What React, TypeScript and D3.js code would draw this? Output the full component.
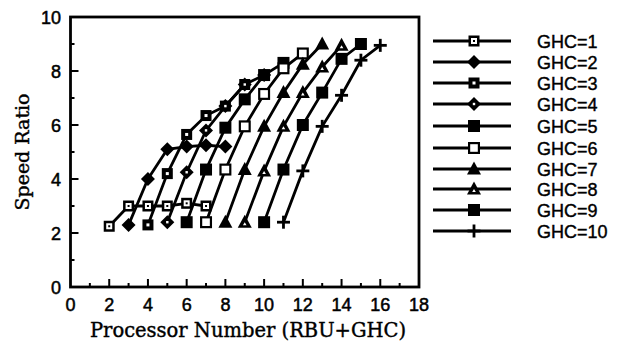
import React from "react";
import * as d3 from "d3";

const ghcCounts = [1, 2, 3, 4, 5, 6, 7, 8, 9, 10];
const rbuCounts = [1, 2, 3, 4, 5, 6];
const speedGHC1 = [2.25, 3.0, 3.0, 3.0, 3.1, 3.0];
const speedGHC2 = [2.3, 4.0, 5.1, 5.2, 5.25, 5.2];
const speedGHC3 = [2.3, 4.2, 5.65, 6.35, 6.7, 7.5];
const speedGHC4 = [2.4, 4.25, 5.8, 6.7, 7.5, 7.85];
const speedGHC5 = [2.4, 4.35, 5.9, 6.95, 7.85, 8.3];
const speedGHC6 = [2.4, 4.35, 5.95, 7.15, 8.1, 8.65];
const speedGHC7 = [2.4, 4.35, 5.95, 7.2, 8.25, 9.0];
const speedGHC8 = [2.4, 4.3, 5.95, 7.2, 8.15, 8.95];
const speedGHC9 = [2.4, 4.35, 6.0, 7.2, 8.45, 9.0];
const speedGHC10 = [2.4, 4.3, 5.95, 7.1, 8.4, 8.95];
const allSpeeds = [speedGHC1, speedGHC2, speedGHC3, speedGHC4, speedGHC5, speedGHC6, speedGHC7, speedGHC8, speedGHC9, speedGHC10];
const xTicks = [0, 2, 4, 6, 8, 10, 12, 14, 16, 18];
const yTicks = [0, 2, 4, 6, 8, 10];
const legendLabels = ghcCounts.map((g) => `GHC=${g}`);
const markerTypes = ["sqdotL", "diamond", "sqdot", "diadot", "square", "opensq", "triangle", "opentri", "square", "plus"];

const x = d3.scaleLinear().domain([0, 18]).range([70.5, 419]);
const y = d3.scaleLinear().domain([0, 10]).range([287, 17]);

function Marker({ type, cx, cy }: { type: string; cx: number; cy: number }) {
  const k = "#000";
  switch (type) {
    case "sqdotL":
      return (
        <g>
          <rect x={cx - 5.5} y={cy - 5.5} width={11} height={11} fill={k} />
          <rect x={cx - 3} y={cy - 3} width={6} height={6} fill="#fff" />
          <rect x={cx - 1} y={cy - 1} width={2} height={2} fill={k} />
        </g>
      );
    case "sqdot":
      return (
        <g>
          <rect x={cx - 5.5} y={cy - 5.5} width={11} height={11} fill={k} />
          <rect x={cx - 1.5} y={cy - 1.5} width={3} height={3} fill="#fff" />
        </g>
      );
    case "square":
      return <rect x={cx - 6} y={cy - 6} width={12} height={12} fill={k} />;
    case "opensq":
      return (
        <g>
          <rect x={cx - 6} y={cy - 6} width={12} height={12} fill={k} />
          <rect x={cx - 3.8} y={cy - 3.8} width={7.6} height={7.6} fill="#fff" />
        </g>
      );
    case "diamond":
      return <path d={`M${cx},${cy - 7}L${cx + 7},${cy}L${cx},${cy + 7}L${cx - 7},${cy}Z`} fill={k} />;
    case "diadot":
      return (
        <g>
          <path d={`M${cx},${cy - 7}L${cx + 7},${cy}L${cx},${cy + 7}L${cx - 7},${cy}Z`} fill={k} />
          <rect x={cx - 1.2} y={cy - 1.2} width={2.4} height={2.4} fill="#fff" />
        </g>
      );
    case "triangle":
      return <path d={`M${cx},${cy - 7.5}L${cx + 7},${cy + 5.5}L${cx - 7},${cy + 5.5}Z`} fill={k} />;
    case "opentri":
      return (
        <g>
          <path d={`M${cx},${cy - 7.5}L${cx + 7},${cy + 5.5}L${cx - 7},${cy + 5.5}Z`} fill={k} />
          <path d={`M${cx},${cy}L${cx + 1.8},${cy + 3}L${cx - 1.8},${cy + 3}Z`} fill="#fff" />
        </g>
      );
    case "plus":
      return (
        <g stroke={k} strokeWidth={2.8}>
          <line x1={cx - 6.5} x2={cx + 6.5} y1={cy} y2={cy} />
          <line x1={cx} x2={cx} y1={cy - 6.5} y2={cy + 6.5} />
        </g>
      );
  }
  return null;
}

export default function App() {
  const series = allSpeeds.map((vals, si) =>
    vals.map((v, i) => ({ px: ghcCounts[si] + rbuCounts[i], v }))
  );
  const pathGen = d3
    .line<{ px: number; v: number }>()
    .x((d) => x(d.px))
    .y((d) => y(d.v));
  const minorX = d3.range(1, 18, 2);
  const minorY = d3.range(1, 10, 2);
  const legendY = [41, 62, 83, 104, 126, 148, 169, 189, 210, 231];
  const sans = "Liberation Sans, Arial, sans-serif";
  return (
    <svg width={623} height={349} style={{ position: "absolute", left: 0, top: 0, background: "#fff" }}>
      <rect x={0} y={0} width={623} height={349} fill="#fff" />
      <rect x={x(0)} y={y(10)} width={x(18) - x(0)} height={y(0) - y(10)} fill="none" stroke="#000" strokeWidth={2.8} />
      {xTicks.slice(1, -1).map((t) => (
        <line key={"xt" + t} x1={x(t)} x2={x(t)} y1={y(0)} y2={y(0) - 8} stroke="#000" strokeWidth={2} />
      ))}
      {minorX.map((t) => (
        <line key={"xm" + t} x1={x(t)} x2={x(t)} y1={y(0)} y2={y(0) - 4} stroke="#000" strokeWidth={2} />
      ))}
      {yTicks.slice(1, -1).map((t) => (
        <line key={"yt" + t} x1={x(0)} x2={x(0) + 8} y1={y(t)} y2={y(t)} stroke="#000" strokeWidth={2} />
      ))}
      {minorY.map((t) => (
        <line key={"ym" + t} x1={x(0)} x2={x(0) + 4} y1={y(t)} y2={y(t)} stroke="#000" strokeWidth={2} />
      ))}
      {xTicks.map((t) => (
        <text key={"xl" + t} x={x(t)} y={311} textAnchor="middle" fontFamily={sans} fontSize={18} stroke="#000" strokeWidth={0.5}>
          {t}
        </text>
      ))}
      {yTicks.map((t) => (
        <text key={"yl" + t} x={61} y={y(t) + 6.5} textAnchor="end" fontFamily={sans} fontSize={18} stroke="#000" strokeWidth={0.5}>
          {t}
        </text>
      ))}
      <text x={248} y={337} textAnchor="middle" fontFamily="DejaVu Serif, serif" fontSize={19.5} stroke="#000" strokeWidth={0.4}>
        Processor Number (RBU+GHC)
      </text>
      <text transform={`translate(29,152) rotate(-90)`} textAnchor="middle" fontFamily="DejaVu Serif, serif" fontSize={19} stroke="#000" strokeWidth={0.4}>
        Speed Ratio
      </text>
      {series.map((s, si) => (
        <path key={"l" + si} d={pathGen(s) || ""} fill="none" stroke="#000" strokeWidth={2.8} />
      ))}
      {series.map((s, si) =>
        s.map((p, i) => <Marker key={`m${si}-${i}`} type={markerTypes[si]} cx={x(p.px)} cy={y(p.v)} />)
      )}
      {legendLabels.map((lab, i) => (
        <g key={"lg" + i}>
          <line x1={433} x2={511} y1={legendY[i]} y2={legendY[i]} stroke="#000" strokeWidth={2.8} />
          <Marker type={markerTypes[i]} cx={474} cy={legendY[i]} />
          <text x={537} y={legendY[i] + 6.5} fontFamily={sans} fontSize={18} stroke="#000" strokeWidth={0.4}>
            {lab}
          </text>
        </g>
      ))}
    </svg>
  );
}
